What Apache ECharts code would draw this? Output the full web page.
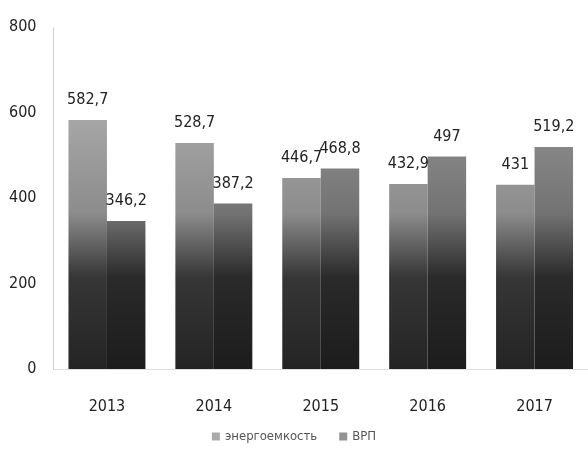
<!DOCTYPE html>
<html><head><meta charset="utf-8">
<script src="https://cdn.jsdelivr.net/npm/echarts@6/dist/echarts.min.js"></script>
<style>html,body{margin:0;padding:0;background:#fff}#c{width:588px;height:454px}</style>
</head><body><div id="c"></div>
<script>
const years = ['2013', '2014', '2015', '2016', '2017'];
const energy = [582.7, 528.7, 446.7, 432.9, 431];
const grp = [346.2, 387.2, 468.8, 497, 519.2];
const seriesNames = ['энергоемкость', 'ВРП'];
const yTicks = [0, 200, 400, 600, 800];

const FONT = "'Liberation Sans Narrow', 'DejaVu Sans Condensed', sans-serif";
function grad(top, mid, low, bottom) {
  return { type: 'linear', x: 0, y: 100, x2: 0, y2: 369, global: true,
    colorStops: [{offset: 0, color: top}, {offset: 0.42, color: mid}, {offset: 0.66, color: low}, {offset: 1, color: bottom}] };
}
const fmt = p => String(p.value).replace('.', ',');
const chart = echarts.init(document.getElementById('c'));
chart.setOption({
  animation: false,
  grid: { left: 53.5, right: -15.5, top: 27, bottom: 85 },
  legend: {
    bottom: 6, left: 'center', itemWidth: 8, itemHeight: 8, itemGap: 22,
    icon: 'rect',
    textStyle: { fontFamily: FONT, fontSize: 13, color: '#555' },
    data: seriesNames
  },
  xAxis: {
    type: 'category', data: years,
    axisLine: { show: true, lineStyle: { color: '#dcdcdc', width: 1, type: 'dotted' } },
    axisTick: { show: false },
    axisLabel: { margin: 30, fontFamily: FONT, fontSize: 16, color: '#222' }
  },
  yAxis: {
    type: 'value', min: 0, max: 800, interval: 200,
    axisLine: { show: true, lineStyle: { color: '#c4c4c4', type: 'dotted' } },
    axisTick: { show: false },
    splitLine: { show: false },
    axisLabel: { margin: 17, fontFamily: FONT, fontSize: 16, color: '#222',
      formatter: v => yTicks.includes(v) ? String(v) : '' }
  },
  series: [
    { name: seriesNames[0], type: 'bar', data: energy, barGap: '0%', barCategoryGap: '28%',
      itemStyle: { color: grad('#ababab', '#8c8c8c', '#363636', '#242424') },
      label: { show: true, position: 'top', distance: 12, formatter: fmt,
        fontFamily: FONT, fontSize: 16, color: '#222' } },
    { name: seriesNames[1], type: 'bar', data: grp,
      itemStyle: { color: grad('#939393', '#737373', '#2a2a2a', '#1c1c1c') },
      label: { show: true, position: 'top', distance: 12, formatter: fmt,
        fontFamily: FONT, fontSize: 16, color: '#222' } }
  ]
});
</script></body></html>
